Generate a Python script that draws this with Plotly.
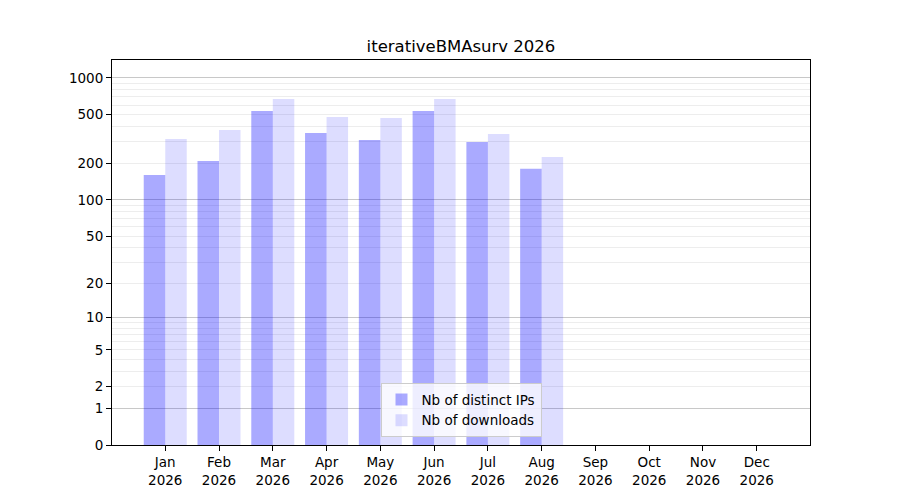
import plotly.graph_objects as go

months = ["Jan", "Feb", "Mar", "Apr", "May", "Jun", "Jul", "Aug", "Sep", "Oct", "Nov", "Dec"]
year = "2026"
distinct_ips = [160, 209, 537, 354, 310, 537, 299, 180, 0, 0, 0, 0]
downloads = [316, 375, 673, 479, 470, 673, 348, 225, 0, 0, 0, 0]

tick_labels = [0, 1, 2, 5, 10, 20, 50, 100, 200, 500, 1000]
major_grid = [1, 10, 100, 1000]
minor_grid = [m * d for d in (1, 10, 100) for m in range(2, 10)]

x = list(range(len(months)))
xlabels = [f"{m}<br>{year}" for m in months]

# y axis is log(1 + n): bars start at base 1 on a log axis
fig = go.Figure()
fig.add_trace(go.Bar(
    x=x, y=distinct_ips, base=1, name="Nb of distinct IPs",
    marker=dict(color="rgba(0,0,255,0.333)", line=dict(width=0)),
))
fig.add_trace(go.Bar(
    x=x, y=downloads, base=1, name="Nb of downloads",
    marker=dict(color="rgba(0,0,255,0.135)", line=dict(width=0)),
))

yrange = [0, 3.1475]

# page body has an 8px margin, so the figure is 884x484 and shifted
W, H = 884, 484
fig.update_layout(
    width=W, height=H,
    margin=dict(l=104, r=82, t=52, b=47),
    paper_bgcolor="white", plot_bgcolor="white",
    font=dict(family="DejaVu Sans", size=13.5, color="black"),
    title=dict(text="iterativeBMAsurv 2026", x=0.5, xref="paper", xanchor="center",
               y=1 - 38 / H, yanchor="middle", font=dict(size=16.5)),
    barmode="group", bargap=0.2, bargroupgap=0,
    showlegend=True,
    legend=dict(x=0.5, xanchor="center", y=0.02, yanchor="bottom",
                bgcolor="rgba(255,255,255,0.8)", bordercolor="#cccccc", borderwidth=1,
                font=dict(size=13.5), itemwidth=30),
    xaxis=dict(
        range=[-0.99, 11.99], tickmode="array", tickvals=x, ticktext=xlabels,
        showgrid=False, zeroline=False, showline=True, linecolor="black", linewidth=1,
        mirror=True, ticks="outside", ticklen=5, tickcolor="black", automargin=False,
    ),
    yaxis=dict(
        type="log", range=yrange, tickmode="array",
        tickvals=[t + 1 for t in tick_labels], ticktext=[str(t) for t in tick_labels],
        showgrid=False, zeroline=False, showline=True, linecolor="black", linewidth=1,
        mirror=True, ticks="outside", ticklen=5, tickcolor="black", automargin=False,
        minor=dict(tickmode="array", tickvals=[v + 1 for v in minor_grid],
                   showgrid=True, gridcolor="#ededed", gridwidth=1, ticks=""),
    ),
    yaxis2=dict(
        type="log", range=yrange, overlaying="y", tickmode="array",
        tickvals=[v + 1 for v in major_grid], showticklabels=False, ticks="",
        showgrid=True, gridcolor="#c8c8c8", gridwidth=1, zeroline=False, showline=False,
        automargin=False,
    ),
)

# empty trace so the major-grid axis is drawn
fig.add_trace(go.Scatter(x=[None], y=[None], yaxis="y2", showlegend=False, hoverinfo="skip"))

fig.write_html("out.html")
